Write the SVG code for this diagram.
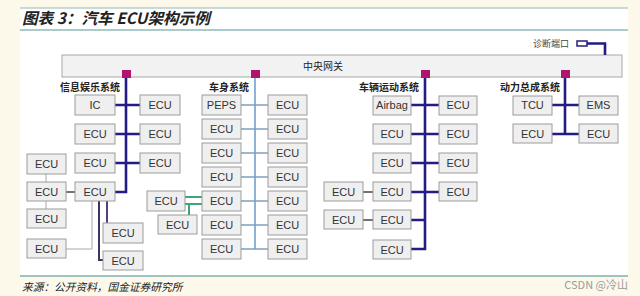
<svg xmlns="http://www.w3.org/2000/svg" width="640" height="296" viewBox="0 0 640 296">
<style>
.bx{fill:#efefef;stroke:#9c9c9c;stroke-width:1}
.t{font-family:"Liberation Sans",Arial,sans-serif;font-size:11px;fill:#333;text-anchor:middle}
.lab{font-family:"Noto Sans CJK SC",sans-serif;font-size:10px;font-weight:bold;fill:#222;text-anchor:end}
.bus{stroke:#221c84;stroke-width:2.6;fill:none}
.bbus{stroke:#8fb3d6;stroke-width:2;fill:none}
.bcon{stroke:#7d9fc4;stroke-width:1.5;fill:none}
.g{stroke:#a8a8a8;stroke-width:1;fill:none}
.dk{stroke:#444;stroke-width:1.5;fill:none}
.grn{stroke:#3aa67a;stroke-width:2;fill:none}
.tap{fill:#b0156e}
</style>
<rect x="0" y="0" width="640" height="296" fill="#fcf8ea"/>
<rect x="20" y="8" width="608" height="268" fill="#ffffff"/>
<line x1="20" y1="8" x2="628" y2="8" stroke="#8fb8b8" stroke-width="1.2"/>
<line x1="20" y1="30" x2="628" y2="30" stroke="#8fb8b8" stroke-width="1.5"/>
<line x1="20" y1="276" x2="628" y2="276" stroke="#7fb0b0" stroke-width="1.5"/>
<text x="22" y="24" font-family="'Noto Sans CJK SC',sans-serif" font-size="15.6" font-weight="bold" font-style="italic" fill="#222">图表 3：汽车 ECU架构示例</text>
<text x="22" y="291" font-family="'Noto Sans CJK SC',serif" font-size="10.7" font-style="italic" fill="#222">来源：公开资料，国金证券研究所</text>
<text x="628" y="289" font-family="'Noto Sans CJK SC',sans-serif" font-size="11" fill="#9a9a9a" text-anchor="end">CSDN @冷山</text>

<g id="gateway">
<rect x="62" y="55" width="560" height="22" fill="#f2f2f2" stroke="#a8a8a8"/>
<text x="323" y="70" font-family="'Noto Sans CJK SC',sans-serif" font-size="10" fill="#222" text-anchor="middle">中央网关</text>
</g>
<g id="diag">
<text x="569" y="47" font-family="'Noto Sans CJK SC',sans-serif" font-size="9" fill="#444" text-anchor="end">诊断端口</text>
<rect x="577" y="41" width="10" height="5" fill="#fff" stroke="#221c84" stroke-width="1.5"/>
</g>

<g id="connectors">
<polyline class="bus" points="587,43.5 605,43.5 605,55" stroke-width="2"/>
<polyline class="bus" points="126,78 126,192 115,192"/>
<path class="bus" d="M115 105H140M115 134H140M115 163H140"/>
<path class="g" d="M46 174V182M46 201V209M66 249H92V201"/>
<path class="dk" d="M66 192H75"/>
<polyline points="99,201 99,260 103,260" fill="none" stroke="#3b3560" stroke-width="2"/>
<polyline points="107,201 107,223" fill="none" stroke="#5a3d80" stroke-width="2"/>
<line class="bbus" x1="255" y1="78" x2="255" y2="249"/>
<path class="bcon" d="M241 105H268M241 129H268M241 153H268M241 177H268M241 201H268M241 225H268M241 249H268"/>
<path class="grn" d="M185 197H202M185 204H202M189 204V215"/>
<polyline class="bus" points="425,78 425,249 411,249"/>
<path class="bus" d="M411 105H439M411 134H439M411 163H439M411 192H439M411 220H425"/>
<path class="dk" d="M363 192H373M363 220H373"/>
<polyline class="bus" points="565,78 565,134"/>
<path class="bus" d="M552 105H579M552 134H579"/>
</g>

<g id="taps">
<rect class="tap" x="122" y="70" width="9" height="8"/>
<rect class="tap" x="251" y="70" width="9" height="8"/>
<rect class="tap" x="421" y="70" width="9" height="8"/>
<rect class="tap" x="561" y="70" width="9" height="8"/>
</g>

<g id="infotainment">
<text class="lab" x="120" y="91">信息娱乐系统</text>
<g id="ie-ic"><rect class="bx" x="75" y="95" width="40" height="20"/><text class="t" x="95" y="109">IC</text></g>
<g id="ie-l2"><rect class="bx" x="75" y="124" width="40" height="20"/><text class="t" x="95" y="138">ECU</text></g>
<g id="ie-l3"><rect class="bx" x="75" y="153" width="40" height="20"/><text class="t" x="95" y="167">ECU</text></g>
<g id="ie-l4"><rect class="bx" x="75" y="182" width="40" height="19"/><text class="t" x="95" y="196">ECU</text></g>
<g id="ie-r1"><rect class="bx" x="140" y="95" width="40" height="20"/><text class="t" x="160" y="109">ECU</text></g>
<g id="ie-r2"><rect class="bx" x="140" y="124" width="40" height="20"/><text class="t" x="160" y="138">ECU</text></g>
<g id="ie-r3"><rect class="bx" x="140" y="153" width="40" height="20"/><text class="t" x="160" y="167">ECU</text></g>
<g id="ie-f1"><rect class="bx" x="27" y="154" width="39" height="20"/><text class="t" x="46.5" y="168">ECU</text></g>
<g id="ie-f2"><rect class="bx" x="27" y="182" width="39" height="19"/><text class="t" x="46.5" y="196">ECU</text></g>
<g id="ie-f3"><rect class="bx" x="27" y="209" width="39" height="19"/><text class="t" x="46.5" y="223">ECU</text></g>
<g id="ie-f4"><rect class="bx" x="27" y="239" width="39" height="19"/><text class="t" x="46.5" y="253">ECU</text></g>
<g id="ie-b1"><rect class="bx" x="103" y="223" width="40" height="20"/><text class="t" x="123" y="237">ECU</text></g>
<g id="ie-b2"><rect class="bx" x="103" y="251" width="40" height="19"/><text class="t" x="123" y="265">ECU</text></g>
</g>

<g id="body">
<text class="lab" x="249" y="91">车身系统</text>
<g id="bd-peps"><rect class="bx" x="202" y="95" width="39" height="20"/><text class="t" x="221.5" y="109">PEPS</text></g>
<g id="bd-l2"><rect class="bx" x="202" y="119" width="39" height="20"/><text class="t" x="221.5" y="133">ECU</text></g>
<g id="bd-l3"><rect class="bx" x="202" y="143" width="39" height="20"/><text class="t" x="221.5" y="157">ECU</text></g>
<g id="bd-l4"><rect class="bx" x="202" y="167" width="39" height="20"/><text class="t" x="221.5" y="181">ECU</text></g>
<g id="bd-l5"><rect class="bx" x="202" y="191" width="39" height="20"/><text class="t" x="221.5" y="205">ECU</text></g>
<g id="bd-l6"><rect class="bx" x="202" y="215" width="39" height="20"/><text class="t" x="221.5" y="229">ECU</text></g>
<g id="bd-l7"><rect class="bx" x="202" y="239" width="39" height="20"/><text class="t" x="221.5" y="253">ECU</text></g>
<g id="bd-r1"><rect class="bx" x="268" y="95" width="39" height="20"/><text class="t" x="287.5" y="109">ECU</text></g>
<g id="bd-r2"><rect class="bx" x="268" y="119" width="39" height="20"/><text class="t" x="287.5" y="133">ECU</text></g>
<g id="bd-r3"><rect class="bx" x="268" y="143" width="39" height="20"/><text class="t" x="287.5" y="157">ECU</text></g>
<g id="bd-r4"><rect class="bx" x="268" y="167" width="39" height="20"/><text class="t" x="287.5" y="181">ECU</text></g>
<g id="bd-r5"><rect class="bx" x="268" y="191" width="39" height="20"/><text class="t" x="287.5" y="205">ECU</text></g>
<g id="bd-r6"><rect class="bx" x="268" y="215" width="39" height="20"/><text class="t" x="287.5" y="229">ECU</text></g>
<g id="bd-r7"><rect class="bx" x="268" y="239" width="39" height="20"/><text class="t" x="287.5" y="253">ECU</text></g>
<g id="bd-x1"><rect class="bx" x="147" y="191" width="38" height="20"/><text class="t" x="166" y="205">ECU</text></g>
<g id="bd-x2"><rect class="bx" x="158" y="215" width="39" height="19"/><text class="t" x="177.5" y="229">ECU</text></g>
</g>

<g id="vehicle">
<text class="lab" x="419" y="91">车辆运动系统</text>
<g id="vm-airbag"><rect class="bx" x="373" y="96" width="38" height="19"/><text class="t" x="392" y="109">Airbag</text></g>
<g id="vm-l2"><rect class="bx" x="373" y="124" width="38" height="20"/><text class="t" x="392" y="138">ECU</text></g>
<g id="vm-l3"><rect class="bx" x="373" y="153" width="38" height="20"/><text class="t" x="392" y="167">ECU</text></g>
<g id="vm-l4"><rect class="bx" x="373" y="182" width="38" height="19"/><text class="t" x="392" y="196">ECU</text></g>
<g id="vm-l5"><rect class="bx" x="373" y="210" width="38" height="19"/><text class="t" x="392" y="224">ECU</text></g>
<g id="vm-l6"><rect class="bx" x="373" y="240" width="38" height="19"/><text class="t" x="392" y="254">ECU</text></g>
<g id="vm-r1"><rect class="bx" x="439" y="96" width="38" height="19"/><text class="t" x="458" y="109">ECU</text></g>
<g id="vm-r2"><rect class="bx" x="439" y="124" width="38" height="20"/><text class="t" x="458" y="138">ECU</text></g>
<g id="vm-r3"><rect class="bx" x="439" y="153" width="38" height="20"/><text class="t" x="458" y="167">ECU</text></g>
<g id="vm-r4"><rect class="bx" x="439" y="182" width="38" height="19"/><text class="t" x="458" y="196">ECU</text></g>
<g id="vm-f1"><rect class="bx" x="324" y="182" width="39" height="19"/><text class="t" x="343.5" y="196">ECU</text></g>
<g id="vm-f2"><rect class="bx" x="324" y="210" width="39" height="19"/><text class="t" x="343.5" y="224">ECU</text></g>
</g>

<g id="powertrain">
<text class="lab" x="560" y="91">动力总成系统</text>
<g id="pt-tcu"><rect class="bx" x="513" y="96" width="39" height="19"/><text class="t" x="532.5" y="109">TCU</text></g>
<g id="pt-l2"><rect class="bx" x="513" y="124" width="39" height="19"/><text class="t" x="532.5" y="138">ECU</text></g>
<g id="pt-ems"><rect class="bx" x="579" y="96" width="39" height="19"/><text class="t" x="598.5" y="109">EMS</text></g>
<g id="pt-r2"><rect class="bx" x="579" y="124" width="39" height="19"/><text class="t" x="598.5" y="138">ECU</text></g>
</g>
</svg>
